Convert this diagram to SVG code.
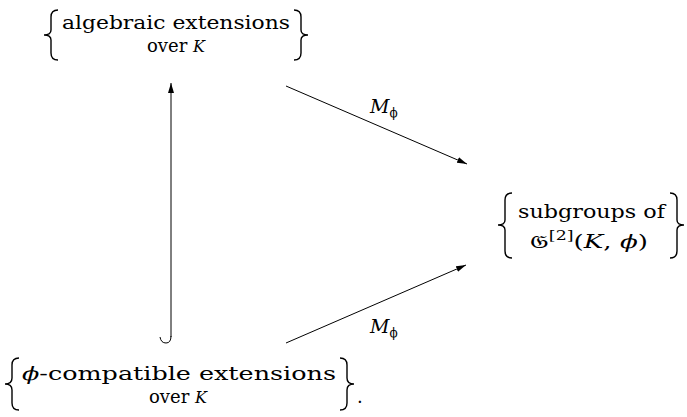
<svg xmlns="http://www.w3.org/2000/svg" width="687" height="417" viewBox="0 0 687 417">
<defs>
<style>
.t{font-family:"DejaVu Serif","Liberation Serif",serif;font-size:18px;fill:#000}
.i{font-style:italic}
.s{font-size:16px}
.m{text-anchor:middle}
.lb{font-size:19px;font-style:italic}
.sub{font-size:12px;font-style:normal}
.br{fill:none;stroke:#000;stroke-width:1.4}
.ln{fill:none;stroke:#000;stroke-width:1}
</style>
<marker id="ah" viewBox="0 0 10 6" refX="10" refY="3" markerWidth="10" markerHeight="6" markerUnits="userSpaceOnUse" orient="auto">
<path d="M0,0 L10,3 L0,6 Z" fill="#000"/>
</marker>
</defs>
<rect width="687" height="417" fill="#fff"/>
<g id="node-algebraic">
<path class="br" d="M58,10 Q51,10 51,17 L51,30 Q51,35 44,35 Q51,35 51,40 L51,53 Q51,60 58,60"/>
<path class="br" d="M294,10 Q301,10 301,17 L301,30 Q301,35 308,35 Q301,35 301,40 L301,53 Q301,60 294,60"/>
<text class="t" x="62" y="29" textLength="228" lengthAdjust="spacingAndGlyphs">algebraic extensions</text>
<text class="t m" x="176" y="52">over <tspan class="i s">K</tspan></text>
</g>
<g id="node-subgroups">
<path class="br" d="M512,193 Q505,193 505,200 L505,220 Q505,225 498,225 Q505,225 505,230 L505,251 Q505,258 512,258"/>
<path class="br" d="M670,193 Q677,193 677,200 L677,220 Q677,225 684,225 Q677,225 677,230 L677,251 Q677,258 670,258"/>
<text class="t" x="518" y="218" textLength="147" lengthAdjust="spacingAndGlyphs">subgroups of</text>
<text class="t" x="530" y="248" textLength="118" lengthAdjust="spacingAndGlyphs"><tspan font-family="DejaVu Sans, Noto Sans, sans-serif">𝔊</tspan><tspan class="sub" dy="-8">[2]</tspan><tspan dy="8">(</tspan><tspan class="i">K</tspan>, <tspan class="i">ϕ</tspan>)</text>
</g>
<g id="node-compatible">
<path class="br" d="M19,358 Q12,358 12,365 L12,378 Q12,384 5,384 Q12,384 12,390 L12,403 Q12,410 19,410"/>
<path class="br" d="M340,358 Q347,358 347,365 L347,378 Q347,384 354,384 Q347,384 347,390 L347,403 Q347,410 340,410"/>
<text class="t" x="22" y="380" textLength="314" lengthAdjust="spacingAndGlyphs"><tspan class="i">ϕ</tspan>-compatible extensions</text>
<text class="t m" x="178" y="403">over <tspan class="i s">K</tspan></text>
<text class="t" x="357" y="403">.</text>
</g>
<g id="connectors">
<path class="ln" d="M171,337 L171,83" marker-end="url(#ah)"/>
<path class="ln" d="M171,336 Q171,343 166,343 Q161,343 160,337"/>
<path class="ln" d="M286,86 L467,164" marker-end="url(#ah)"/>
<path class="ln" d="M286,343 L466,265" marker-end="url(#ah)"/>
<text class="t lb" x="370" y="113">M<tspan class="sub" dy="4">ϕ</tspan></text>
<text class="t lb" x="370" y="333">M<tspan class="sub" dy="4">ϕ</tspan></text>
</g>
</svg>
